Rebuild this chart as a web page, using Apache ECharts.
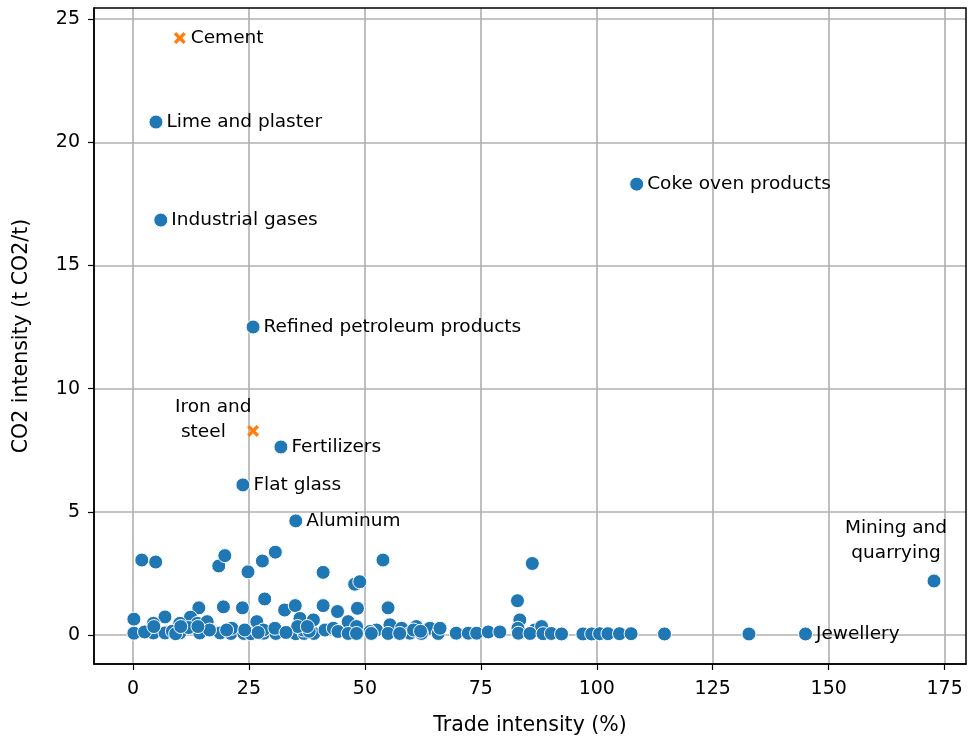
<!DOCTYPE html>
<html>
<head>
<meta charset="utf-8">
<script src="https://cdn.jsdelivr.net/npm/echarts@6/dist/echarts.min.js"></script>
<style>html,body{margin:0;padding:0;background:#fff}#c{width:968px;height:742px}</style>
</head>
<body>
<div id="c"></div>
<script>
// Labeled sectors: [name, trade intensity %, CO2 intensity]
const labeledCircles = [
  ['Lime and plaster', 4.96, 20.82],
  ['Industrial gases', 6.0, 16.84],
  ['Coke oven products', 108.6, 18.30],
  ['Refined petroleum products', 25.9, 12.5],
  ['Fertilizers', 31.9, 7.63],
  ['Flat glass', 23.7, 6.09],
  ['Aluminum', 35.1, 4.63],
  ['Jewellery', 145.0, 0.04]
];
const labeledCrosses = [
  ['Cement', 10.1, 24.23],
  ['Iron and\n steel', 25.9, 8.28]
];
const miningPoint = ['Mining and\nquarrying', 172.7, 2.19];

// Unlabeled sectors: [trade intensity %, CO2 intensity]
const otherPoints = [
  [1.9,3.04],[4.9,2.96],[18.5,2.8],[19.8,3.22],[24.8,2.56],[27.9,3.0],[30.7,3.36],[41.0,2.54],
  [47.8,2.06],[48.9,2.16],[53.9,3.04],[86.1,2.9],
  [28.4,1.46],[19.5,1.14],[23.6,1.1],[14.2,1.1],[6.9,0.73],[0.2,0.64],[32.7,1.01],[35.0,1.19],
  [41.0,1.19],[44.1,0.95],[48.4,1.08],[55.0,1.10],[82.9,1.39],[83.4,0.61],[12.4,0.72],
  [0.2,0.07],[4.4,0.47],[4.4,0.08],[6.9,0.08],[10.1,0.47],[10.1,0.08],[13.9,0.47],[14.4,0.08],
  [16.0,0.54],[18.8,0.08],[2.5,0.12],[8.5,0.15],[12.0,0.3],[16.5,0.2],[9.2,0.05],[21.1,0.06],
  [23.9,0.06],[25.4,0.05],[28.2,0.07],[30.8,0.06],[35.1,0.05],[36.9,0.06],[39.0,0.06],
  [21.3,0.27],[24.1,0.2],[26.7,0.54],[28.1,0.2],[30.6,0.27],[36.0,0.67],[36.7,0.2],[38.9,0.61],
  [41.4,0.2],[38.0,0.15],[20.2,0.2],[43.2,0.27],[46.4,0.54],[48.2,0.34],[44.2,0.14],[52.5,0.2],
  [55.4,0.41],[57.9,0.27],[61.1,0.34],[59.7,0.07],[64.0,0.27],[51.1,0.14],[46.4,0.06],[48.2,0.06],
  [51.4,0.06],[55.0,0.06],[57.5,0.06],[62.2,0.06],[65.8,0.06],[66.2,0.27],[69.7,0.07],[72.3,0.07],
  [74.1,0.07],[76.6,0.12],[79.1,0.12],[83.0,0.27],[83.1,0.07],[86.6,0.2],[88.1,0.34],[85.6,0.06],
  [88.4,0.05],[90.2,0.06],[92.4,0.04],[97.0,0.04],[98.9,0.04],[100.6,0.05],[102.4,0.05],[104.9,0.05],
  [107.4,0.05],[114.6,0.04],[132.8,0.04],
  [4.5,0.34],[10.3,0.34],[14.0,0.34],[35.5,0.34],[37.6,0.34],[60.5,0.2],[62.0,0.15],[33.0,0.1],[27.0,0.1]
];

const xTicks = [0, 25, 50, 75, 100, 125, 150, 175];
const yTicks = [0, 5, 10, 15, 20, 25];

const FONT = 'DejaVu Sans';
const BLUE = '#1f77b4';
const ORANGE = '#ff7f0e';
const crossPath = 'path://M0,2 L2,0 L5,3 L8,0 L10,2 L7,5 L10,8 L8,10 L5,7 L2,10 L0,8 L3,5 Z';

const chart = echarts.init(document.getElementById('c'), null, {renderer: 'canvas'});
const labelBase = {show: true, color: '#000', fontFamily: FONT, fontSize: 18.5};

chart.setOption({
  animation: false,
  backgroundColor: '#fff',
  grid: {left: 94, right: 2, top: 8, bottom: 78},
  xAxis: {
    type: 'value', min: -8.4, max: 179.6,
    name: 'Trade intensity (%)', nameLocation: 'middle', nameGap: 51,
    nameTextStyle: {fontFamily: FONT, fontSize: 20.5, color: '#000'},
    axisLine: {show: true, onZero: false, lineStyle: {color: '#000', width: 1.5}},
    axisTick: {show: true, length: 6, customValues: xTicks, lineStyle: {color: '#000', width: 1.2}},
    axisLabel: {customValues: xTicks, fontFamily: FONT, fontSize: 19, color: '#000', margin: 16},
    splitLine: {show: true, lineStyle: {color: '#b0b0b0', width: 1.6}}
  },
  yAxis: {
    type: 'value', min: -1.18, max: 25.45,
    name: 'CO2 intensity (t CO2/t)', nameLocation: 'middle', nameGap: 62,
    nameTextStyle: {fontFamily: FONT, fontSize: 20.5, color: '#000'},
    axisLine: {show: true, onZero: false, lineStyle: {color: '#000', width: 1.5}},
    axisTick: {show: true, length: 6, customValues: yTicks, lineStyle: {color: '#000', width: 1.2}},
    axisLabel: {customValues: yTicks, fontFamily: FONT, fontSize: 19, color: '#000', margin: 14},
    splitLine: {show: true, lineStyle: {color: '#b0b0b0', width: 1.6}}
  },
  graphic: [{
    type: 'rect', shape: {x: 94, y: 8, width: 872, height: 656}, silent: true, z: 100,
    style: {fill: 'none', stroke: '#000', lineWidth: 1.5}
  }],
  series: [
    {
      type: 'scatter', symbol: 'circle', symbolSize: 14,
      itemStyle: {color: BLUE, borderColor: '#fff', borderWidth: 1, opacity: 1},
      data: otherPoints
    },
    {
      type: 'scatter', symbol: 'circle', symbolSize: 14,
      itemStyle: {color: BLUE, borderColor: '#fff', borderWidth: 1, opacity: 1},
      label: Object.assign({}, labelBase, {position: 'right', distance: 3, formatter: p => p.data[2]}),
      data: labeledCircles.map(d => [d[1], d[2], d[0]])
    },
    {
      type: 'scatter', symbol: 'circle', symbolSize: 14,
      itemStyle: {color: BLUE, borderColor: '#fff', borderWidth: 1, opacity: 1},
      label: Object.assign({}, labelBase, {position: 'inside', align: 'center', verticalAlign: 'middle',
        lineHeight: 25, offset: [-38, -40], formatter: p => p.data[2]}),
      data: [[miningPoint[1], miningPoint[2], miningPoint[0]]]
    },
    {
      type: 'scatter', symbol: crossPath, symbolSize: 12,
      itemStyle: {color: ORANGE, opacity: 1},
      label: Object.assign({}, labelBase, {position: 'right', distance: 5, formatter: p => p.data[2]}),
      data: [[labeledCrosses[0][1], labeledCrosses[0][2], labeledCrosses[0][0]]]
    },
    {
      type: 'scatter', symbol: crossPath, symbolSize: 12,
      itemStyle: {color: ORANGE, opacity: 1},
      label: Object.assign({}, labelBase, {position: 'inside', align: 'left', verticalAlign: 'middle',
        lineHeight: 25, offset: [-78, -11], formatter: p => p.data[2]}),
      data: [[labeledCrosses[1][1], labeledCrosses[1][2], labeledCrosses[1][0]]]
    }
  ]
});
</script>
</body>
</html>
